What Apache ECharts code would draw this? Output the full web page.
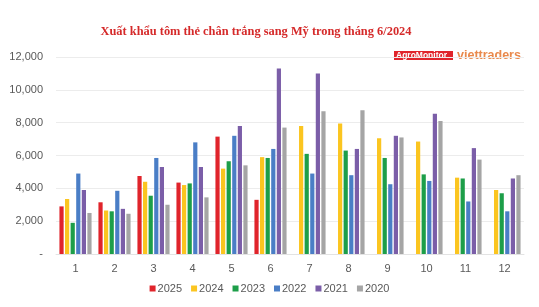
<!DOCTYPE html>
<html><head><meta charset="utf-8">
<script src="https://cdn.jsdelivr.net/npm/echarts@6/dist/echarts.min.js"></script>
<style>html,body{margin:0;padding:0;background:#fff}#c{width:539px;height:307px}</style>
</head><body><div id="c"></div>
<script>
const categories = ['1','2','3','4','5','6','7','8','9','10','11','12'];
const years = ['2025','2024','2023','2022','2021','2020'];
const s2025 = [2900, 3150, 4750, 4350, 7150, 3300, null, null, null, null, null, null];
const s2024 = [3350, 2650, 4400, 4200, 5200, 5900, 7800, 7950, 7050, 6850, 4650, 3900];
const s2023 = [1900, 2600, 3550, 4300, 5650, 5850, 6100, 6300, 5850, 4850, 4600, 3700];
const s2022 = [4900, 3850, 5850, 6800, 7200, 6400, 4900, 4800, 4250, 4450, 3200, 2600];
const s2021 = [3900, 2750, 5300, 5300, 7800, 11300, 11000, 6400, 7200, 8550, 6450, 4600];
const s2020 = [2500, 2450, 3000, 3450, 5400, 7700, 8700, 8750, 7100, 8100, 5750, 4800];
const yTicks = {min: 0, max: 12000, interval: 2000};
const colors = ['#e0242b', '#fbc520', '#1d9e49', '#4a7ec6', '#7b5ea8', '#a5a5a5'];
const seriesData = [s2025, s2024, s2023, s2022, s2021, s2020];

const chart = echarts.init(document.getElementById('c'));
chart.setOption({
  animation: false,
  color: colors,
  title: {
    text: 'Xuất khẩu tôm thẻ chân trắng sang Mỹ trong tháng 6/2024',
    left: 251, textAlign: 'center', top: 21,
    textStyle: {fontFamily: 'Liberation Serif', fontWeight: 'bold', fontSize: 12.4, color: '#d52a2a'}
  },
  grid: {left: 56, right: 15, top: 57, bottom: 53},
  legend: {
    data: years, bottom: 8, left: 'center',
    itemWidth: 6, itemHeight: 6, itemGap: 9, icon: 'rect',
    textStyle: {fontFamily: 'Liberation Sans', fontSize: 11, color: '#595959', padding: [0,0,0,-3]}
  },
  xAxis: {
    type: 'category', data: categories,
    axisLine: {lineStyle: {color: '#e3e3e3'}},
    axisTick: {show: false},
    axisLabel: {fontFamily: 'Liberation Sans', fontSize: 11, color: '#595959', margin: 9}
  },
  yAxis: {
    type: 'value', min: yTicks.min, max: yTicks.max, interval: yTicks.interval,
    splitLine: {lineStyle: {color: '#ececec'}},
    axisLabel: {fontFamily: 'Liberation Sans', fontSize: 11, color: '#595959', margin: 13,
      formatter: v => v === 0 ? '-' : v.toLocaleString('en-US')}
  },
  graphic: [
    {type: 'rect', left: 394, top: 51, shape: {width: 59, height: 9}, style: {fill: '#e0242b'}},
    {type: 'text', left: 396, top: 51, style: {text: 'AgroMonitor', fill: '#fff', font: 'bold 8.5px Liberation Sans'}},
    {type: 'text', left: 457, top: 49, style: {text: 'viettraders', fill: '#e9894c', font: 'bold 12.5px Liberation Sans'}}
  ],
  series: seriesData.map((d, i) => ({
    name: years[i], type: 'bar', data: d, barWidth: 4.2, barGap: '33%'
  }))
});
</script></body></html>
